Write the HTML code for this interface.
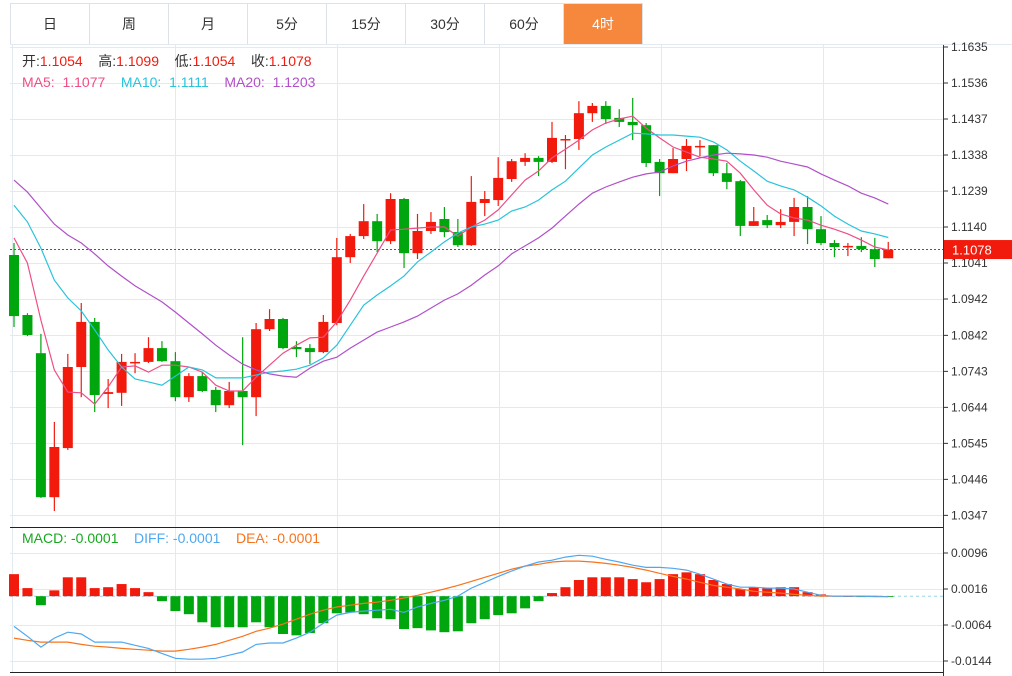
<!DOCTYPE html>
<html><head><meta charset="utf-8">
<style>
body{margin:0;background:#fff;width:1012px;height:676px;overflow:hidden;font-family:"Liberation Sans","Noto Sans CJK SC",sans-serif;}
.tabs{position:absolute;left:10px;top:3px;height:40px;border:1px solid #dde2e8;display:flex;}
.tab{width:78px;border-right:1px solid #dde2e8;text-align:center;line-height:40px;font-size:14px;color:#333;}
.tab.active{background:#f5883d;color:#fff;}
svg{position:absolute;left:0;top:0;}
</style></head><body>
<div class="tabs">
<div class="tab">日</div>
<div class="tab">周</div>
<div class="tab">月</div>
<div class="tab">5分</div>
<div class="tab">15分</div>
<div class="tab">30分</div>
<div class="tab">60分</div>
<div class="tab active" style="border-right:none">4时</div>
</div>
<svg id="chart" width="1012" height="676" font-family="Liberation Sans, Noto Sans CJK SC, sans-serif"></svg>
<script>
const opens=[1.1063,1.0898,1.0793,1.0397,1.0532,1.0755,1.0879,1.0681,1.0684,1.0766,1.0769,1.0807,1.0771,1.0672,1.0730,1.0692,1.0650,1.0689,1.0672,1.0859,1.0887,1.0810,1.0807,1.0796,1.0876,1.1057,1.1115,1.1156,1.1101,1.1217,1.1068,1.1129,1.1162,1.1126,1.1090,1.1206,1.1214,1.1272,1.1319,1.1330,1.1319,1.1379,1.1382,1.1453,1.1473,1.1440,1.1429,1.1420,1.1319,1.1288,1.1327,1.1360,1.1365,1.1288,1.1266,1.1143,1.1159,1.1145,1.1154,1.1195,1.1134,1.1096,1.1085,1.1088,1.1079,1.1054];
const closes=[1.0895,1.0843,1.0397,1.0535,1.0755,1.0879,1.0678,1.0686,1.0769,1.0769,1.0807,1.0771,1.0672,1.0730,1.0689,1.0650,1.0689,1.0672,1.0859,1.0887,1.0807,1.0804,1.0796,1.0879,1.1057,1.1115,1.1156,1.1101,1.1217,1.1068,1.1129,1.1154,1.1126,1.1090,1.1209,1.1217,1.1275,1.1321,1.1330,1.1319,1.1385,1.1382,1.1453,1.1473,1.1437,1.1429,1.1420,1.1316,1.1288,1.1327,1.1363,1.1363,1.1288,1.1264,1.1143,1.1156,1.1145,1.1154,1.1195,1.1134,1.1096,1.1085,1.1088,1.1079,1.1052,1.1078];
const highs=[1.1096,1.0903,1.0846,1.0604,1.0791,1.0931,1.0890,1.0722,1.0791,1.0793,1.0837,1.0826,1.0796,1.0738,1.0741,1.0700,1.0714,1.0837,1.0876,1.0914,1.0890,1.0826,1.0818,1.0898,1.1110,1.1121,1.1203,1.1176,1.1233,1.1220,1.1176,1.1181,1.1195,1.1162,1.1280,1.1239,1.1332,1.1327,1.1343,1.1335,1.1429,1.1393,1.1486,1.1481,1.1486,1.1464,1.1495,1.1426,1.1327,1.1357,1.1382,1.1379,1.1365,1.1316,1.1269,1.1195,1.1173,1.1189,1.1220,1.1225,1.1170,1.1104,1.1096,1.1112,1.1110,1.1099];
const lows=[1.0865,1.0840,1.0395,1.0359,1.0527,1.0672,1.0631,1.0642,1.0648,1.0738,1.0766,1.0769,1.0661,1.0659,1.0686,1.0631,1.0642,1.0540,1.0620,1.0854,1.0804,1.0782,1.0763,1.0793,1.0870,1.1041,1.1107,1.1071,1.1093,1.1027,1.1052,1.1121,1.1112,1.1085,1.1088,1.1170,1.1198,1.1264,1.1308,1.1280,1.1316,1.1299,1.1352,1.1429,1.1423,1.1415,1.1379,1.1305,1.1225,1.1288,1.1294,1.1335,1.1280,1.1244,1.1115,1.1143,1.1137,1.1137,1.1115,1.1093,1.1090,1.1057,1.1060,1.1071,1.1030,1.1054];
const ma5=[1.1110,1.1041,1.0884,1.0747,1.0686,1.0684,1.0653,1.0700,1.0755,1.0758,1.0741,1.0760,1.0760,1.0755,1.0741,1.0705,1.0689,1.0689,1.0727,1.0760,1.0793,1.0815,1.0835,1.0837,1.0879,1.0939,1.1005,1.1068,1.1132,1.1134,1.1137,1.1140,1.1140,1.1115,1.1140,1.1159,1.1187,1.1228,1.1269,1.1294,1.1330,1.1354,1.1379,1.1407,1.1426,1.1437,1.1445,1.1412,1.1385,1.1360,1.1346,1.1332,1.1327,1.1321,1.1288,1.1242,1.1200,1.1176,1.1165,1.1159,1.1145,1.1134,1.1121,1.1104,1.1085,1.1077];
const ma10=[1.1200,1.1154,1.1082,1.0994,1.0945,1.0909,1.0857,1.0802,1.0755,1.0722,1.0714,1.0705,1.0730,1.0755,1.0747,1.0725,1.0725,1.0725,1.0733,1.0741,1.0744,1.0749,1.0760,1.0780,1.0815,1.0870,1.0925,1.0953,1.0978,1.1005,1.1044,1.1071,1.1099,1.1123,1.1140,1.1148,1.1159,1.1184,1.1195,1.1214,1.1242,1.1266,1.1302,1.1338,1.1360,1.1379,1.1398,1.1396,1.1393,1.1393,1.1390,1.1387,1.1374,1.1352,1.1321,1.1294,1.1266,1.1253,1.1242,1.1222,1.1198,1.1170,1.1148,1.1129,1.1121,1.1111];
const ma20=[1.1269,1.1236,1.1192,1.1148,1.1118,1.1096,1.1066,1.1033,1.1005,1.0978,1.0956,1.0934,1.0906,1.0876,1.0846,1.0815,1.0788,1.0763,1.0747,1.0736,1.0730,1.0727,1.0752,1.0771,1.0782,1.0807,1.0829,1.0851,1.0865,1.0879,1.0895,1.0917,1.0939,1.0956,1.0980,1.1008,1.1033,1.1066,1.1088,1.1110,1.1137,1.1170,1.1203,1.1233,1.1250,1.1264,1.1277,1.1286,1.1291,1.1308,1.1321,1.1330,1.1338,1.1343,1.1341,1.1338,1.1332,1.1321,1.1313,1.1305,1.1286,1.1269,1.1253,1.1233,1.1220,1.1203];
const macdBars=[0.0049,0.0018,-0.0020,0.0013,0.0042,0.0042,0.0018,0.0020,0.0027,0.0018,0.0009,-0.0011,-0.0033,-0.0040,-0.0058,-0.0069,-0.0069,-0.0069,-0.0058,-0.0069,-0.0084,-0.0087,-0.0082,-0.0060,-0.0038,-0.0036,-0.0040,-0.0049,-0.0051,-0.0073,-0.0071,-0.0076,-0.0080,-0.0078,-0.0060,-0.0051,-0.0042,-0.0038,-0.0027,-0.0011,0.0007,0.0020,0.0036,0.0042,0.0042,0.0042,0.0038,0.0031,0.0038,0.0049,0.0053,0.0049,0.0036,0.0027,0.0016,0.0020,0.0018,0.0020,0.0020,0.0009,0.0004,0.0001,0.0000,-0.0002,-0.0001,-0.0001];
const diffLine=[-0.0067,-0.0089,-0.0113,-0.0093,-0.0080,-0.0084,-0.0102,-0.0102,-0.0102,-0.0109,-0.0116,-0.0127,-0.0138,-0.0140,-0.0140,-0.0138,-0.0131,-0.0124,-0.0107,-0.0104,-0.0104,-0.0093,-0.0080,-0.0060,-0.0042,-0.0036,-0.0033,-0.0031,-0.0029,-0.0036,-0.0024,-0.0016,-0.0009,0.0000,0.0018,0.0031,0.0044,0.0056,0.0067,0.0076,0.0080,0.0087,0.0091,0.0089,0.0082,0.0076,0.0069,0.0064,0.0064,0.0062,0.0058,0.0049,0.0038,0.0027,0.0020,0.0020,0.0018,0.0018,0.0016,0.0009,0.0002,0.0000,0.0000,0.0000,-0.0001,-0.0001];
const deaLine=[-0.0093,-0.0098,-0.0102,-0.0102,-0.0102,-0.0107,-0.0111,-0.0113,-0.0116,-0.0118,-0.0120,-0.0122,-0.0122,-0.0118,-0.0113,-0.0107,-0.0098,-0.0089,-0.0078,-0.0071,-0.0062,-0.0051,-0.0040,-0.0031,-0.0024,-0.0020,-0.0016,-0.0013,-0.0009,-0.0004,0.0002,0.0009,0.0016,0.0024,0.0033,0.0042,0.0051,0.0060,0.0067,0.0071,0.0076,0.0078,0.0078,0.0076,0.0073,0.0069,0.0064,0.0058,0.0051,0.0044,0.0038,0.0031,0.0024,0.0020,0.0016,0.0011,0.0009,0.0007,0.0004,0.0002,0.0000,0.0000,0.0000,0.0000,0.0000,-0.0001];
const priceTicks=["1.1635","1.1536","1.1437","1.1338","1.1239","1.1140","1.1041","1.0942","1.0842","1.0743","1.0644","1.0545","1.0446","1.0347"];
const macdTicks=["0.0096","0.0016","-0.0064","-0.0144"];
const lastPrice=1.1078;

const NS="http://www.w3.org/2000/svg";
const svg=document.getElementById('chart');
function mk(tag,attrs,parent){const e=document.createElementNS(NS,tag);for(const k in attrs)e.setAttribute(k,attrs[k]);(parent||svg).appendChild(e);return e;}
const X0=14,DX=13.45,AX=943;
const xAt=i=>X0+DX*i;
const yP=p=>47+(1.1635-p)/0.0099*36;
const yM=v=>596.2-v*4500;
const RED='#f21a0c',GREEN='#00a60d';

const grid=mk('g',{});


priceTicks.forEach(t=>{const y=Math.round(yP(+t))+0.5;mk('line',{x1:10,x2:AX,y1:y,y2:y,stroke:'#e3e9f0'},grid);});
macdTicks.forEach(t=>{const y=Math.round(yM(+t))+0.5;mk('line',{x1:10,x2:AX,y1:y,y2:y,stroke:'#e3e9f0'},grid);});
[12.5,175.5,337.5,499.5,661.5,823.5].forEach(x=>mk('line',{x1:x,x2:x,y1:44,y2:672,stroke:'#e3e9f0'},grid));
mk('line',{x1:AX+0.5,x2:AX+0.5,y1:44,y2:676,stroke:'#333'});
mk('line',{x1:10,x2:AX,y1:527.5,y2:527.5,stroke:'#222'});
mk('line',{x1:10,x2:AX,y1:672.5,y2:672.5,stroke:'#222'});
mk('line',{x1:10,x2:1012,y1:44.5,y2:44.5,stroke:'#e3e9f0'});

priceTicks.forEach(t=>{const y=yP(+t);
 mk('line',{x1:AX,x2:AX+5,y1:y,y2:y,stroke:'#333'});
 const tx=mk('text',{x:AX+8,y:y+4,'font-size':12,fill:'#333'});tx.textContent=t;
 
 });
macdTicks.forEach(t=>{const y=yM(+t);
 mk('line',{x1:AX,x2:AX+5,y1:y,y2:y,stroke:'#333'});
 const tx=mk('text',{x:AX+8,y:y+4,'font-size':12,fill:'#333'});tx.textContent=t;
 
 });

const ly=yP(lastPrice);
const lline=mk('line',{x1:10,x2:AX,y1:ly,y2:ly,stroke:RED,'stroke-dasharray':'2,2'});



const cg=mk('g',{});


opens.forEach((o,i)=>{const c=closes[i];const col=c>=o?RED:GREEN;const x=xAt(i);
 const g=mk('g',{},cg);
 
 
 mk('line',{x1:x,x2:x,y1:yP(highs[i]),y2:yP(lows[i]),stroke:col,'stroke-width':1.2},g);
 const t=Math.min(yP(o),yP(c)),h=Math.max(1.5,Math.abs(yP(o)-yP(c)));
 mk('rect',{x:x-5,y:t,width:10,height:h,fill:col},g);});

function line(arr,fy,col,name){const d=arr.map((v,i)=>(i?'L':'M')+xAt(i).toFixed(1)+','+fy(v).toFixed(1)).join('');
 const p=mk('path',{d:d,fill:'none',stroke:col,'stroke-width':1.2});
 
 }
line(ma5,yP,'#ee4f86','ma5-line');
line(ma10,yP,'#29c3db','ma10-line');
line(ma20,yP,'#b150c9','ma20-line');

const zero=yM(0);
mk('line',{x1:10,x2:AX,y1:zero,y2:zero,stroke:'#9cd2e8','stroke-dasharray':'3,3'});
const mg=mk('g',{});


macdBars.forEach((v,i)=>{const y=yM(v);const r=mk('rect',{x:xAt(i)-5,y:Math.min(y,zero),width:10,height:Math.max(0.8,Math.abs(y-zero)),fill:v>=0?RED:GREEN},mg);
 
 });
line(deaLine,yM,'#f7731c','dea-line');
line(diffLine,yM,'#4fa8ef','diff-line');

const tag=mk('g',{});


mk('rect',{x:AX+1,y:ly-9.5,width:69,height:19,fill:RED},tag);
const tt=mk('text',{x:AX+9,y:ly+5,'font-size':13,fill:'#fff'},tag);tt.textContent=lastPrice.toFixed(4);

function txt(x,y,parts,name){const t=mk('text',{x:x,y:y,'font-size':14});
 
 
 t.style.whiteSpace='pre';
 parts.forEach(([s,c])=>{const ts=mk('tspan',{fill:c},t);ts.textContent=s;});}
txt(22,66,[['开:','#333'],['1.1054','#f21a0c'],['    高:','#333'],['1.1099','#f21a0c'],['    低:','#333'],['1.1054','#f21a0c'],['    收:','#333'],['1.1078','#f21a0c']],'ohlc-legend');
txt(22,87,[['MA5:  1.1077','#ee4f86'],['    MA10:  1.1111','#29c3db'],['    MA20:  1.1203','#b150c9']],'ma-legend');
txt(22,543,[['MACD: -0.0001','#17a81f'],['    DIFF: -0.0001','#4fa8ef'],['    DEA: -0.0001','#f7731c']],'macd-legend');
</script>
</body></html>
